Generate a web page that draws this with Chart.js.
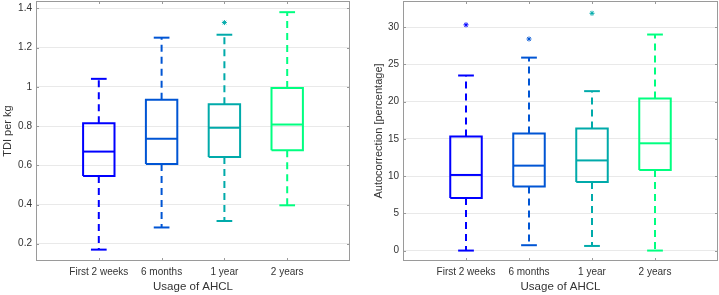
<!DOCTYPE html>
<html>
<head>
<meta charset="utf-8">
<script src="https://cdn.jsdelivr.net/npm/chart.js@4/dist/chart.umd.min.js"></script>
<style>
  body { margin: 0; background: #fff; }
  #left, #right { position: absolute; top: 0; }
  #left { left: 0; }
  #right { left: 360px; }
</style>
</head>
<body>
<canvas id="left" width="360" height="295"></canvas>
<canvas id="right" width="359" height="295"></canvas>
<script>
// groups on the x axis
const categories = ['First 2 weeks', '6 months', '1 year', '2 years'];
const colors = ['#0000FF', '#0055D4', '#00AAAA', '#00FF80'];

// TDI per kg
const tdiLow = [0.17, 0.283, 0.316, 0.396];
const tdiQ1 = [0.545, 0.607, 0.642, 0.677];
const tdiMed = [0.67, 0.736, 0.791, 0.808];
const tdiQ3 = [0.815, 0.935, 0.912, 0.994];
const tdiHigh = [1.041, 1.251, 1.266, 1.381];
const tdiOut = [[], [], [1.328], []];

// Autocorrection [percentage]
const autoLow = [0, 0.72, 0.62, 0];
const autoQ1 = [7.05, 8.6, 9.2, 10.8];
const autoMed = [10.15, 11.4, 12.1, 14.4];
const autoQ3 = [15.3, 15.7, 16.4, 20.4];
const autoHigh = [23.5, 25.9, 21.4, 29.0];
const autoOut = [[30.3], [28.4], [31.85], []];

const FONT = "'Liberation Sans', Arial, Helvetica, sans-serif";
const TEXT = '#333333';

function line(points, color, dash) {
    return {
        type: 'scatter',
        data: points,
        showLine: true,
        borderColor: color,
        backgroundColor: color,
        borderWidth: 2,
        borderDash: dash || [],
        borderJoinStyle: 'miter',
        borderCapStyle: 'butt',
        pointRadius: 0,
        tension: 0
    };
}

function boxDatasets(lo, q1, med, q3, hi, out) {
    const sets = [];
    for (let i = 0; i < categories.length; i++) {
        const x = i + 1, c = colors[i];
        const hw = 0.25, cw = 0.125;
        sets.push(line([
            {x: x - hw, y: q1[i]}, {x: x + hw, y: q1[i]},
            {x: x + hw, y: q3[i]}, {x: x - hw, y: q3[i]},
            {x: x - hw, y: q1[i]}
        ], c));
        sets.push(line([{x: x - hw, y: med[i]}, {x: x + hw, y: med[i]}], c));
        sets.push(line([{x: x, y: q3[i]}, {x: x, y: hi[i]}], c, [7, 5]));
        sets.push(line([{x: x, y: q1[i]}, {x: x, y: lo[i]}], c, [7, 5]));
        sets.push(line([{x: x - cw, y: hi[i]}, {x: x + cw, y: hi[i]}], c));
        sets.push(line([{x: x - cw, y: lo[i]}, {x: x + cw, y: lo[i]}], c));
        if (out[i].length) {
            sets.push({
                type: 'scatter',
                data: out[i].map(v => ({x: x, y: v})),
                pointStyle: 'star',
                pointRadius: 2.5,
                borderWidth: 1,
                borderColor: c,
                backgroundColor: c
            });
        }
    }
    return sets;
}

// frame round the plot area with small inward ticks, MATLAB style
const framePlugin = {
    id: 'frame',
    afterDraw(chart) {
        const {ctx, chartArea: a, scales} = chart;
        ctx.save();
        ctx.strokeStyle = '#9a9a9a';
        ctx.lineWidth = 1;
        ctx.strokeRect(Math.round(a.left) + 0.5, Math.round(a.top) + 0.5,
            Math.round(a.right - a.left) - 1, Math.round(a.bottom - a.top) - 1);
        ctx.beginPath();
        scales.x.ticks.forEach(t => {
            const px = Math.round(scales.x.getPixelForValue(t.value)) + 0.5;
            ctx.moveTo(px, a.bottom); ctx.lineTo(px, a.bottom - 3);
            ctx.moveTo(px, a.top); ctx.lineTo(px, a.top + 3);
        });
        scales.y.ticks.forEach(t => {
            const py = Math.round(scales.y.getPixelForValue(t.value)) + 0.5;
            ctx.moveTo(a.left, py); ctx.lineTo(a.left + 3, py);
            ctx.moveTo(a.right, py); ctx.lineTo(a.right - 3, py);
        });
        ctx.stroke();
        ctx.restore();
    }
};

function makeChart(id, datasets, yMin, yMax, yStep, yTitle, yWidth, yTitlePad, pad) {
    return new Chart(document.getElementById(id), {
        type: 'scatter',
        data: {datasets: datasets},
        options: {
            responsive: false,
            animation: false,
            events: [],
            layout: {padding: pad, autoPadding: false},
            plugins: {legend: {display: false}, tooltip: {enabled: false}},
            scales: {
                x: {
                    type: 'linear',
                    min: 0,
                    max: 5,
                    afterBuildTicks: s => { s.ticks = categories.map((c, i) => ({value: i + 1})); },
                    afterFit: s => { s.height = 34; s.paddingLeft = 0; s.paddingRight = 0; },
                    grid: {display: false, drawTicks: false},
                    border: {display: false},
                    ticks: {
                        padding: 5,
                        color: TEXT,
                        maxRotation: 0,
                        autoSkip: false,
                        font: {family: FONT, size: 10},
                        callback: v => categories[v - 1]
                    },
                    title: {
                        display: true,
                        text: 'Usage of AHCL',
                        color: TEXT,
                        padding: {top: 0, bottom: 1.5},
                        font: {family: FONT, size: 11.5}
                    }
                },
                y: {
                    min: yMin,
                    max: yMax,
                    afterFit: s => { s.width = yWidth; s.paddingTop = 0; s.paddingBottom = 0; },
                    grid: {color: '#e9e9e9', drawTicks: false},
                    border: {display: false},
                    ticks: {
                        stepSize: yStep,
                        includeBounds: false,
                        padding: 4,
                        color: TEXT,
                        font: {family: FONT, size: 10},
                        callback: v => String(Math.round(v * 10) / 10)
                    },
                    title: {
                        display: true,
                        text: yTitle,
                        color: TEXT,
                        padding: {top: yTitlePad, bottom: 0},
                        font: {family: FONT, size: 11}
                    }
                }
            }
        },
        plugins: [framePlugin]
    });
}

makeChart('left', boxDatasets(tdiLow, tdiQ1, tdiMed, tdiQ3, tdiHigh, tdiOut),
    0.112, 1.438, 0.2, 'TDI per kg', 36, 1, {left: 0, top: 1, right: 10, bottom: 0});
makeChart('right', boxDatasets(autoLow, autoQ1, autoMed, autoQ3, autoHigh, autoOut),
    -1.4, 33.5, 5, 'Autocorrection [percentage]', 43, 12, {left: 0, top: 1, right: 1, bottom: 0});
</script>
</body>
</html>
